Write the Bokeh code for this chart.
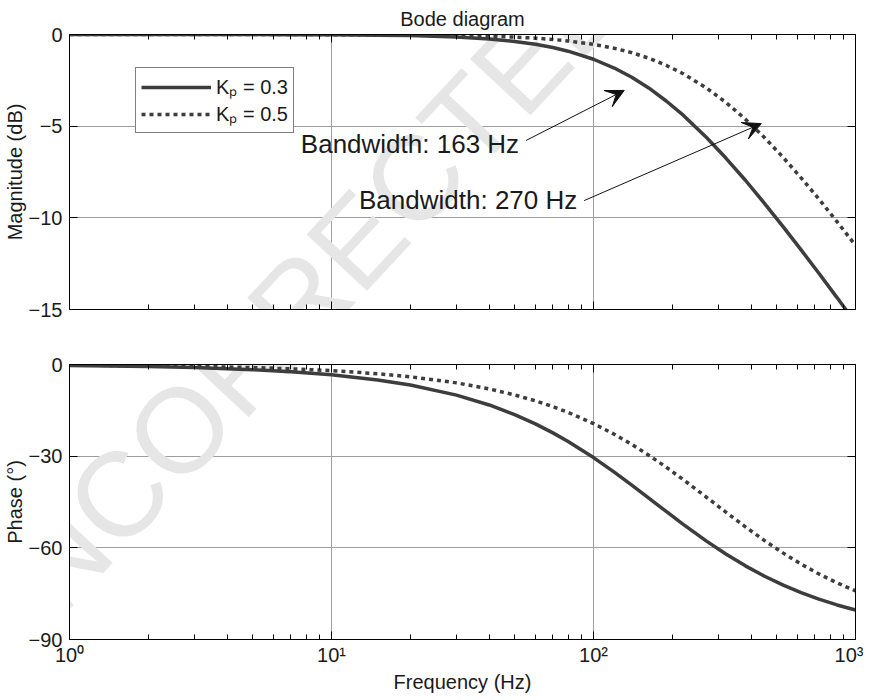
from bokeh.plotting import figure
from bokeh.models import (FixedTicker, LogAxis, LinearAxis, Legend, LegendItem,
                          Arrow, VeeHead, Label, Range1d, ColumnDataSource)
from bokeh.layouts import column
from bokeh.embed import file_html
from bokeh.resources import INLINE

# ---------------- data ----------------
FREQ = [1, 2, 3, 5, 7, 10, 15, 20, 30, 40, 50, 60, 70, 80, 100, 120, 140,
        163, 190, 220, 270, 320, 380, 450, 530, 620, 720, 850, 1000]
MAG_KP03 = [0.00, -0.00, -0.00, -0.00, -0.01, -0.02, -0.04, -0.06, -0.14, -0.25,
            -0.38, -0.53, -0.71, -0.91, -1.35, -1.83, -2.33, -2.93, -3.64, -4.40,
            -5.62, -6.74, -7.95, -9.22, -10.49, -11.75, -12.97, -14.35, -15.72]
MAG_KP05 = [0.00, 0.00, -0.00, -0.00, -0.00, -0.01, -0.01, -0.02, -0.05, -0.09,
            -0.14, -0.20, -0.27, -0.35, -0.54, -0.75, -0.99, -1.30, -1.69, -2.14,
            -2.92, -3.70, -4.62, -5.63, -6.71, -7.82, -8.92, -10.21, -11.50]
PHASE_KP03 = [-0.34, -0.67, -1.01, -1.68, -2.36, -3.37, -5.04, -6.71, -10.01, -13.24,
              -16.39, -19.44, -22.38, -25.20, -30.47, -35.22, -39.47, -43.80, -48.18,
              -52.31, -57.81, -62.02, -65.90, -69.30, -72.22, -74.67, -76.71, -78.69, -80.35]
PHASE_KP05 = [-0.20, -0.40, -0.60, -1.01, -1.41, -2.01, -3.01, -4.01, -6.01, -7.99,
              -9.95, -11.89, -13.80, -15.68, -19.33, -22.83, -26.16, -29.77, -33.69,
              -37.66, -43.45, -48.31, -53.13, -57.65, -61.73, -65.31, -68.41, -71.46, -74.09]
SERIES_LABELS = ["K\u209a = 0.3", "K\u209a = 0.5"]

X_TICKS = [1, 10, 100, 1000]
X_TICK_LABELS = ["10\u2070", "10\u00b9", "10\u00b2", "10\u00b3"]
X_MINOR = [2, 3, 4, 5, 6, 7, 8, 9, 20, 30, 40, 50, 60, 70, 80, 90,
           200, 300, 400, 500, 600, 700, 800, 900]
MAG_TICKS = [-15, -10, -5, 0]
MAG_TICK_LABELS = ["\u221215", "\u221210", "\u22125", "0"]
PHASE_TICKS = [-90, -60, -30, 0]
PHASE_TICK_LABELS = ["\u221290", "\u221260", "\u221230", "0"]

BW_TEXTS = ["Bandwidth: 163 Hz", "Bandwidth: 270 Hz"]

# ---------------- styling ----------------
FONT = "Liberation Sans"
LINE_COLOR = "#3d3d3d"
TEXT_COLOR = "#1a1a1a"
GRID_COLOR = "#9e9e9e"
WM_COLOR = "#e6e6e6"

x_range = Range1d(1, 1000)


def style_axis(ax, ticker, labels=None, show_labels=True):
    ax.ticker = ticker
    ax.axis_line_color = "black"
    ax.major_tick_line_color = "black"
    ax.minor_tick_line_color = "black"
    ax.major_tick_in = 8
    ax.major_tick_out = 0
    ax.minor_tick_in = 5
    ax.minor_tick_out = 0
    ax.major_label_text_font = FONT
    ax.major_label_text_color = TEXT_COLOR
    ax.axis_label_text_font = FONT
    ax.axis_label_text_font_style = "normal"
    ax.axis_label_text_color = TEXT_COLOR
    ax.axis_label_text_font_size = "20px"
    if show_labels:
        ax.major_label_text_font_size = "20px"
        if labels is not None:
            ax.major_label_overrides = labels
    else:
        ax.major_label_text_font_size = "1px"
        ax.major_label_text_alpha = 0
        ax.major_label_standoff = 0


def make_fig(y_lo, y_hi, yticks, ylabels, ylabel, x_labels, b_top, b_bottom):
    p = figure(x_axis_type="log", x_range=x_range, y_range=Range1d(y_lo, y_hi),
               frame_width=786, frame_height=275, output_backend="svg",
               toolbar_location=None, min_border_left=63, min_border_right=8,
               min_border_top=b_top, min_border_bottom=b_bottom,
               background_fill_color="white", border_fill_color="white")
    p.outline_line_color = "black"
    p.outline_line_width = 1

    xt = FixedTicker(ticks=X_TICKS, minor_ticks=X_MINOR)
    yt = FixedTicker(ticks=yticks, minor_ticks=[])

    xb = p.xaxis[0]
    style_axis(xb, xt, dict(zip(X_TICKS, X_TICK_LABELS)), show_labels=x_labels)
    if x_labels:
        xb.axis_label = "Frequency (Hz)"
        xb.major_label_standoff = 4
        xb.axis_label_standoff = 2
    yl = p.yaxis[0]
    style_axis(yl, yt, dict(zip(yticks, ylabels)))
    yl.minor_tick_line_color = None
    yl.axis_label = ylabel
    yl.major_label_standoff = 7
    yl.axis_label_standoff = 0

    xa = LogAxis()
    style_axis(xa, xt, show_labels=False)
    p.add_layout(xa, "above")
    yr = LinearAxis()
    style_axis(yr, yt, show_labels=False)
    yr.minor_tick_line_color = None
    p.add_layout(yr, "right")

    p.xgrid.ticker = FixedTicker(ticks=X_TICKS)
    p.ygrid.ticker = FixedTicker(ticks=yticks)
    for g in (p.xgrid, p.ygrid):
        g.grid_line_color = GRID_COLOR
        g.grid_line_width = 1
        g.grid_line_alpha = 1
    return p


# ---------------- magnitude ----------------
p1 = make_fig(-15, 0, MAG_TICKS, MAG_TICK_LABELS, "Magnitude (dB)", False, 28, 30)
p1.title.text = "Bode diagram"
p1.title.align = "center"
p1.title.text_font = FONT
p1.title.text_font_style = "normal"
p1.title.text_font_size = "20px"
p1.title.text_color = TEXT_COLOR

wm1 = Label(x=6.86, y=-15.2, text="UNCORRECTED", angle=47, angle_units="deg",
            text_align="center", text_baseline="middle", text_font=FONT,
            text_font_size="120px", text_color=WM_COLOR, level="underlay")
p1.add_layout(wm1)

src_m = ColumnDataSource(dict(f=FREQ, a=MAG_KP03, b=MAG_KP05))
r1 = p1.line("f", "a", source=src_m, line_color=LINE_COLOR, line_width=3.5)
r2 = p1.line("f", "b", source=src_m, line_color=LINE_COLOR, line_width=3.5,
             line_dash="4 4")

legend = Legend(items=[LegendItem(label=SERIES_LABELS[0], renderers=[r1]),
                       LegendItem(label=SERIES_LABELS[1], renderers=[r2])],
                location=(66, 176))
legend.label_text_font = FONT
legend.label_text_font_size = "20px"
legend.label_text_color = TEXT_COLOR
legend.glyph_width = 70
legend.glyph_height = 20
legend.label_height = 20
legend.label_standoff = 5
legend.padding = 5
legend.spacing = 0
legend.margin = 0
legend.border_line_color = "black"
legend.border_line_width = 1
legend.background_fill_alpha = 1
p1.add_layout(legend)

for (tx, ty, txt) in [(52.0, -5.95, BW_TEXTS[0]), (86.7, -9.0, BW_TEXTS[1])]:
    p1.add_layout(Label(x=tx, y=ty, text=txt, text_align="right",
                        text_baseline="middle", text_font=FONT,
                        text_font_size="26px", text_color=TEXT_COLOR))

for (xs, ys, xe, ye) in [(55.3, -5.78, 131, -3.05), (92.1, -9.06, 437, -4.86)]:
    p1.add_layout(Arrow(end=VeeHead(size=18, fill_color="#111111", line_color="#111111",
                                    line_width=1),
                        x_start=xs, y_start=ys, x_end=xe, y_end=ye,
                        line_color="#111111", line_width=1))

# ---------------- phase ----------------
p2 = make_fig(-90, 0, PHASE_TICKS, PHASE_TICK_LABELS, "Phase (\u00b0)", True, 25, 50)

wm2 = Label(x=6.86, y=17.0, text="UNCORRECTED", angle=47, angle_units="deg",
            text_align="center", text_baseline="middle", text_font=FONT,
            text_font_size="120px", text_color=WM_COLOR, level="underlay")
p2.add_layout(wm2)

src_p = ColumnDataSource(dict(f=FREQ, a=PHASE_KP03, b=PHASE_KP05))
p2.line("f", "a", source=src_p, line_color=LINE_COLOR, line_width=3.5)
p2.line("f", "b", source=src_p, line_color=LINE_COLOR, line_width=3.5, line_dash="4 4")

layout = column(p1, p2, spacing=0)
open("out.html", "w").write(file_html(layout, INLINE))
